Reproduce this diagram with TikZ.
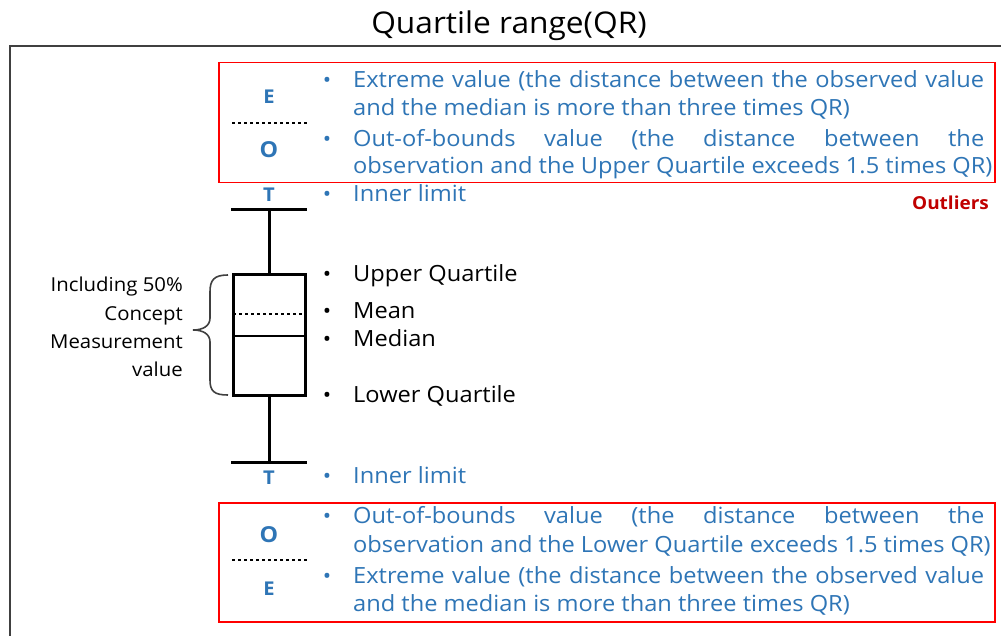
\documentclass[tikz,border=0pt]{standalone}
\usepackage{fontspec}
\setmainfont{Open Sans}[FakeStretch=1.06]
\definecolor{qblue}{HTML}{2E75B6}
\definecolor{qred}{HTML}{FF0000}
\definecolor{qdark}{HTML}{C00000}
\definecolor{qgray}{HTML}{404040}
\newcommand\jline[1]{\makebox[631pt][s]{#1}}
\tikzset{
  txt/.style={anchor=base west, inner sep=0pt, font=\fontsize{22.3}{26}\selectfont},
  blu/.style={txt, text=qblue},
  bul/.style={anchor=base, inner sep=0pt, font=\fontsize{21}{25}\selectfont},
  lbl/.style={anchor=base, inner sep=0pt, text=qblue, font=\bfseries\fontsize{19}{22}\selectfont},
  redbox/.style={draw=qred, line width=1.5pt, anchor=north west, inner sep=0pt},
  thickline/.style={line width=3pt},
  dotline/.style={line width=2.5pt, dash pattern=on 2.5pt off 3.5pt},
  lefttxt/.style={anchor=base east, inner sep=0pt, font=\fontsize{19.2}{23}\selectfont},
}
\begin{document}
\begin{tikzpicture}[x=1pt,y=-1pt]
\useasboundingbox (0,0) rectangle (1001,636);
\fill[white] (0,0) rectangle (1001,636);
% frame
\draw[qgray, line width=1.3pt] (10,636) -- (10,46) -- (1001,46);
% title
\node[anchor=base, inner sep=0pt, font=\fontsize{29.9}{34}\selectfont] (title) at (509,34) {Quartile range(QR)};
% red boxes
\node[redbox, minimum width=776pt, minimum height=120pt] (topbox) at (218,62) {};
\node[redbox, minimum width=776pt, minimum height=119pt] (botbox) at (218,502) {};
\node[anchor=base east, inner sep=0pt, text=qdark, font=\bfseries\fontsize{17.9}{22}\selectfont] (outl) at (989,210) {Outliers};
% top labels
\node[lbl] (E1) at (269,104) {E};
\coordinate (d1l) at (232,123);
\coordinate (d1r) at (307,123);
\draw[dotline] (d1l) -- (d1r);
\node[lbl, font=\bfseries\fontsize{22}{24}\selectfont] (O1) at (269,158) {O};
\node[lbl] (T1) at (269,202) {T};
% box plot
\coordinate (wt) at (269,210);
\coordinate (wtl) at (231,210);
\coordinate (wtr) at (307,210);
\draw[thickline] (wtl) -- (wtr);
\node[draw, thickline, minimum width=72pt, minimum height=120pt, inner sep=0pt] (box) at (269,335) {};
\draw[thickline] (box.north) -- (wt);
\coordinate (mnl) at (233,314);
\coordinate (mnr) at (305,314);
\draw[dotline] (mnl) -- (mnr);
\coordinate (mdl) at (233,336);
\coordinate (mdr) at (305,336);
\draw[line width=2.2pt] (mdl) -- (mdr);
\coordinate (wb) at (269,462);
\coordinate (wbl) at (231,462);
\coordinate (wbr) at (307,462);
\draw[thickline] (box.south) -- (wb);
\draw[thickline] (wbl) -- (wbr);
\node[lbl] (T2) at (269,484) {T};
% bottom labels
\node[lbl, font=\bfseries\fontsize{22}{24}\selectfont] (O2) at (269,542) {O};
\coordinate (d2l) at (232,560);
\coordinate (d2r) at (307,560);
\draw[dotline] (d2l) -- (d2r);
\node[lbl] (E2) at (269,595) {E};
% brace
\draw[qgray, line width=1.6pt] (228,275) .. controls (214,275) and (210,280) .. (210,292)
  -- (210,318) .. controls (210,326) and (203,330) .. (193,330)
  .. controls (203,330) and (210,334) .. (210,342)
  -- (210,380) .. controls (210,391) and (214,395) .. (228,395);
% left text
\node[lefttxt] (l1) at (183,292) {Including 50\%};
\node[lefttxt] (l2) at (183,320) {Concept};
\node[lefttxt] (l3) at (183,348) {Measurement};
\node[lefttxt] (l4) at (183,376) {value};
% top bullets
\node[bul, text=qblue] (b1) at (327,88) {•};
\node[blu] (t1) at (353,88) {\jline{Extreme value (the distance between the observed value}};
\node[blu] (t2) at (353,116) {and the median is more than three times QR)};
\node[bul, text=qblue] (b2) at (327,147) {•};
\node[blu] (t3) at (353,147) {\jline{Out-of-bounds value (the distance between the}};
\node[blu] (t4) at (353,174) {observation and the Upper Quartile exceeds 1.5 times QR)};
\node[bul, text=qblue] (b3) at (327,202) {•};
\node[blu] (t5) at (353,202) {Inner limit};
% middle bullets
\node[bul] (b4) at (327,282) {•};
\node[txt] (t6) at (353,282) {Upper Quartile};
\node[bul] (b5) at (327,318) {•};
\node[txt] (t7) at (353,318) {Mean};
\node[bul] (b6) at (327,346) {•};
\node[txt] (t8) at (353,346) {Median};
\node[bul] (b7) at (327,402) {•};
\node[txt] (t9) at (353,402) {Lower Quartile};
\node[bul, text=qblue] (b8) at (327,483) {•};
\node[blu] (t10) at (353,483) {Inner limit};
% bottom bullets
\node[bul, text=qblue] (b9) at (327,523) {•};
\node[blu] (t11) at (353,523) {\jline{Out-of-bounds value (the distance between the}};
\node[blu] (t12) at (353,552) {observation and the Lower Quartile exceeds 1.5 times QR)};
\node[bul, text=qblue] (b10) at (327,583) {•};
\node[blu] (t13) at (353,583) {\jline{Extreme value (the distance between the observed value}};
\node[blu] (t14) at (353,611) {and the median is more than three times QR)};
\end{tikzpicture}
\end{document}
